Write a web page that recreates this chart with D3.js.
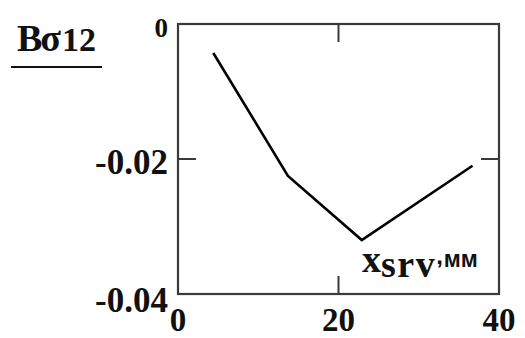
<!DOCTYPE html>
<html>
<head>
<meta charset="utf-8">
<script src="https://cdn.jsdelivr.net/npm/d3@7/dist/d3.min.js"></script>
<style>
  html, body { margin: 0; padding: 0; background: #fff; }
  svg { display: block; }
  text { font-family: "Liberation Serif", "Times New Roman", serif; font-weight: bold; fill: #111; }
</style>
</head>
<body>
<svg id="chart" width="525" height="338"></svg>
<script>
// Coefficient B_sigma12 versus x_srv (mm)
const xsrv = [4.4, 13.7, 22.9, 36.7];
const bSigma12 = [-0.0043, -0.0225, -0.0320, -0.0210];
const xTicks = [0, 20, 40];
const yTicks = [0, -0.02, -0.04];
const yTickLabels = ["0", "-0.02", "-0.04"];

const svg = d3.select("#chart");
const plot = { left: 178, right: 499, top: 24, bottom: 294 };

const x = d3.scaleLinear().domain([0, 40]).range([plot.left, plot.right]);
const y = d3.scaleLinear().domain([0, -0.04]).range([plot.top, plot.bottom]);

const frameColor = "#3a3a3a";

// plot frame
svg.append("rect")
  .attr("x", plot.left).attr("y", plot.top)
  .attr("width", plot.right - plot.left).attr("height", plot.bottom - plot.top)
  .attr("fill", "none").attr("stroke", frameColor).attr("stroke-width", 2.2);

// inner ticks on all four sides (middle values only)
const tickLen = 18;
xTicks.slice(1, -1).forEach(v => {
  svg.append("line").attr("x1", x(v)).attr("x2", x(v)).attr("y1", plot.top).attr("y2", plot.top + tickLen)
    .attr("stroke", frameColor).attr("stroke-width", 2);
  svg.append("line").attr("x1", x(v)).attr("x2", x(v)).attr("y1", plot.bottom).attr("y2", plot.bottom - tickLen)
    .attr("stroke", frameColor).attr("stroke-width", 2);
});
yTicks.slice(1, -1).forEach(v => {
  svg.append("line").attr("x1", plot.left).attr("x2", plot.left + tickLen).attr("y1", y(v)).attr("y2", y(v))
    .attr("stroke", frameColor).attr("stroke-width", 2);
  svg.append("line").attr("x1", plot.right).attr("x2", plot.right - tickLen).attr("y1", y(v)).attr("y2", y(v))
    .attr("stroke", frameColor).attr("stroke-width", 2);
});

// y tick labels
yTicks.forEach((v, i) => {
  const first = i === 0;
  svg.append("text")
    .attr("x", plot.left - 10)
    .attr("y", y(v) + (first ? 13 : (i === 1 ? 15 : 18)))
    .attr("text-anchor", "end")
    .attr("font-size", first ? 27 : 35)
    .text(yTickLabels[i]);
});

// x tick labels
xTicks.forEach(v => {
  svg.append("text")
    .attr("x", x(v))
    .attr("y", 331)
    .attr("text-anchor", "middle")
    .attr("font-size", 33)
    .text(v);
});

// data line
const line = d3.line().x((d, i) => x(xsrv[i])).y(d => y(d));
svg.append("path")
  .datum(bSigma12)
  .attr("d", line)
  .attr("fill", "none")
  .attr("stroke", "#000")
  .attr("stroke-width", 2.6)
  .attr("stroke-linejoin", "miter");

// y-axis title with underline
const yTitle = svg.append("text").attr("x", 17).attr("y", 51);
yTitle.append("tspan").attr("font-size", 38).text("B");
yTitle.append("tspan").attr("font-size", 38).attr("dx", -2).text("σ");
yTitle.append("tspan").attr("font-size", 34).attr("dx", 1).text("12");
svg.append("line").attr("x1", 11).attr("x2", 102).attr("y1", 67).attr("y2", 67)
  .attr("stroke", "#111").attr("stroke-width", 2);

// x-axis title
const xTitle = svg.append("text").attr("x", 362).attr("y", 272);
xTitle.append("tspan").attr("font-size", 38).text("x");
xTitle.append("tspan").attr("font-size", 38).attr("dy", 5).attr("letter-spacing", 1.5).text("srv");
const sans = "font-family: 'Liberation Sans', Arial, sans-serif";
xTitle.append("tspan").attr("font-size", 24).attr("dx", 0).attr("dy", -13).attr("style", sans).text(",");
xTitle.append("tspan").attr("font-size", 23).attr("dx", 1).attr("dy", 3).attr("style", sans).text("мм");
</script>
</body>
</html>
